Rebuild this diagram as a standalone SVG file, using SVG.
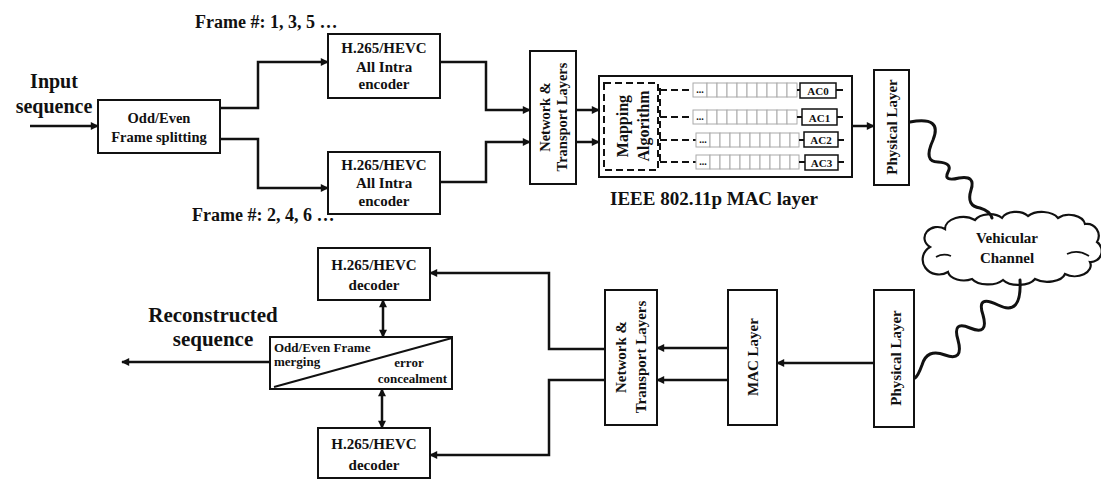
<svg xmlns="http://www.w3.org/2000/svg" width="1101" height="479" viewBox="0 0 1101 479">
<style>
text{font-family:"Liberation Serif","Times New Roman",serif;font-weight:bold;fill:#111}
.box{fill:#fff;stroke:#111;stroke-width:2}
.c{fill:none;stroke:#111;stroke-width:2.5}
.w{fill:none;stroke:#111;stroke-width:3;stroke-linecap:round}
.arr{marker-end:url(#ah)}
.dbl{marker-start:url(#ah);marker-end:url(#ah)}
.dash{fill:none;stroke:#111;stroke-width:2;stroke-dasharray:7,4}
.cell{fill:#fff;stroke:#aaa;stroke-width:1}
.m{text-anchor:middle}
</style>
<defs>
<marker id="ah" viewBox="0 0 10 10" refX="9" refY="5" markerUnits="userSpaceOnUse" markerWidth="10" markerHeight="8" orient="auto-start-reverse">
<path d="M0,0 L10,5 L0,10 z" fill="#111"/>
</marker>
</defs>
<rect width="1101" height="479" fill="#fff"/>

<g id="labels">
<text x="195" y="28" font-size="18">Frame #: 1, 3, 5 …</text>
<text x="192" y="221" font-size="18">Frame #: 2, 4, 6 …</text>
<text x="54" y="88" font-size="20" class="m">Input</text>
<text x="54" y="113" font-size="20" class="m">sequence</text>
<text x="213" y="322" font-size="21" class="m">Reconstructed</text>
<text x="213" y="346" font-size="21" class="m">sequence</text>
<text x="714" y="205" font-size="19" class="m">IEEE 802.11p MAC layer</text>
</g>

<g id="split">
<rect class="box" x="98" y="100" width="122" height="53"/>
<text x="159" y="123" font-size="14.5" class="m">Odd/Even</text>
<text x="159" y="142" font-size="14.5" class="m">Frame splitting</text>
</g>

<g id="enc1">
<rect class="box" x="328" y="34" width="112" height="64"/>
<text x="384" y="53" font-size="15" class="m">H.265/HEVC</text>
<text x="384" y="72" font-size="15" class="m">All Intra</text>
<text x="384" y="89" font-size="15" class="m">encoder</text>
</g>

<g id="enc2">
<rect class="box" x="328" y="152" width="112" height="62"/>
<text x="384" y="170" font-size="15" class="m">H.265/HEVC</text>
<text x="384" y="188" font-size="15" class="m">All Intra</text>
<text x="384" y="206" font-size="15" class="m">encoder</text>
</g>

<g id="net1">
<rect class="box" x="530" y="51" width="46" height="133"/>
<g transform="translate(553,117) rotate(-90)">
<text x="0" y="-3" font-size="14.5" class="m">Network &amp;</text>
<text x="0" y="14" font-size="14.5" class="m">Transport Layers</text>
</g>
</g>

<g id="mac1">
<rect class="box" x="599" y="76" width="253" height="101" stroke-width="2.5"/>
<rect x="604" y="83" width="54" height="87" class="dash"/>
<g transform="translate(631,126) rotate(-90)">
<text x="0" y="-3" font-size="16" class="m">Mapping</text>
<text x="0" y="18" font-size="16" class="m">Algorithm</text>
</g>
<line x1="660" y1="88" x2="660" y2="164" class="dash"/>
<g id="queues">
<line x1="660" y1="90" x2="693" y2="90" class="dash"/>
<line x1="660" y1="117" x2="693" y2="117" class="dash"/>
<line x1="660" y1="140" x2="696" y2="140" class="dash"/>
<line x1="660" y1="162" x2="696" y2="162" class="dash"/>
<g id="q0">
<rect class="cell" x="693" y="83" width="14" height="14"/>
<rect class="cell" x="707" y="83" width="10" height="14"/><rect class="cell" x="717" y="83" width="10" height="14"/><rect class="cell" x="727" y="83" width="10" height="14"/><rect class="cell" x="737" y="83" width="10" height="14"/><rect class="cell" x="747" y="83" width="10" height="14"/><rect class="cell" x="757" y="83" width="10" height="14"/><rect class="cell" x="767" y="83" width="10" height="14"/><rect class="cell" x="777" y="83" width="10" height="14"/><rect class="cell" x="787" y="83" width="10" height="14"/>
<text x="700" y="93" font-size="10" class="m">...</text>
<line x1="797" y1="90" x2="800" y2="90" stroke="#111" stroke-width="2"/>
<rect x="800" y="83" width="36" height="15" fill="#fff" stroke="#111" stroke-width="1.5"/>
<text x="818" y="95" font-size="11" class="m">AC0</text>
<line x1="836" y1="90" x2="843" y2="90" stroke="#111" stroke-width="2"/>
</g>
<g id="q1">
<rect class="cell" x="693" y="110" width="14" height="14"/>
<rect class="cell" x="707" y="110" width="10" height="14"/><rect class="cell" x="717" y="110" width="10" height="14"/><rect class="cell" x="727" y="110" width="10" height="14"/><rect class="cell" x="737" y="110" width="10" height="14"/><rect class="cell" x="747" y="110" width="10" height="14"/><rect class="cell" x="757" y="110" width="10" height="14"/><rect class="cell" x="767" y="110" width="10" height="14"/><rect class="cell" x="777" y="110" width="10" height="14"/><rect class="cell" x="787" y="110" width="10" height="14"/>
<text x="700" y="120" font-size="10" class="m">...</text>
<line x1="797" y1="117" x2="802" y2="117" stroke="#111" stroke-width="2"/>
<rect x="802" y="109" width="35" height="16" fill="#fff" stroke="#111" stroke-width="1.5"/>
<text x="819.500" y="122" font-size="11" class="m">AC1</text>
<line x1="837" y1="117" x2="843" y2="117" stroke="#111" stroke-width="2"/>
</g>
<g id="q2">
<rect class="cell" x="696" y="133" width="14" height="14"/>
<rect class="cell" x="710" y="133" width="10" height="14"/><rect class="cell" x="720" y="133" width="10" height="14"/><rect class="cell" x="730" y="133" width="10" height="14"/><rect class="cell" x="740" y="133" width="10" height="14"/><rect class="cell" x="750" y="133" width="10" height="14"/><rect class="cell" x="760" y="133" width="10" height="14"/><rect class="cell" x="770" y="133" width="10" height="14"/><rect class="cell" x="780" y="133" width="10" height="14"/><rect class="cell" x="790" y="133" width="9" height="14"/>
<text x="703" y="143" font-size="10" class="m">...</text>
<line x1="799" y1="140" x2="804" y2="140" stroke="#111" stroke-width="2"/>
<rect x="804" y="132" width="34" height="15" fill="#fff" stroke="#111" stroke-width="1.5"/>
<text x="821" y="144" font-size="11" class="m">AC2</text>
<line x1="838" y1="140" x2="844" y2="140" stroke="#111" stroke-width="2"/>
</g>
<g id="q3">
<rect class="cell" x="696" y="155" width="14" height="14"/>
<rect class="cell" x="710" y="155" width="10" height="14"/><rect class="cell" x="720" y="155" width="10" height="14"/><rect class="cell" x="730" y="155" width="10" height="14"/><rect class="cell" x="740" y="155" width="10" height="14"/><rect class="cell" x="750" y="155" width="10" height="14"/><rect class="cell" x="760" y="155" width="10" height="14"/><rect class="cell" x="770" y="155" width="10" height="14"/><rect class="cell" x="780" y="155" width="10" height="14"/><rect class="cell" x="790" y="155" width="9" height="14"/>
<text x="703" y="165" font-size="10" class="m">...</text>
<line x1="799" y1="162" x2="805" y2="162" stroke="#111" stroke-width="2"/>
<rect x="805" y="155" width="33" height="15" fill="#fff" stroke="#111" stroke-width="1.5"/>
<text x="821.500" y="167" font-size="11" class="m">AC3</text>
<line x1="838" y1="162" x2="844" y2="162" stroke="#111" stroke-width="2"/>
</g>
</g>
</g>

<g id="phy1">
<rect class="box" x="874" y="70" width="35" height="115"/>
<g transform="translate(891.500,127) rotate(-90)">
<text x="0" y="5" font-size="15" class="m">Physical Layer</text>
</g>
</g>

<g id="cloud">
<path d="M930,247 A13,11 0 0 1 945,229 A18,12 0 0 1 975,220 A16,10 0 0 1 1002,218 A15,10 0 0 1 1028,216 A18,11 0 0 1 1058,218 A16,11 0 0 1 1085,224 A12,12 0 0 1 1097,242 A11,11 0 0 1 1090,262 A16,11 0 0 1 1065,274 A18,10 0 0 1 1035,279 A18,10 0 0 1 1003,280 A18,10 0 0 1 972,279 A16,10 0 0 1 948,272 A12,11 0 0 1 930,247 Z" fill="#fff" stroke="#111" stroke-width="2.2"/>
<path d="M936,257 Q943,253 951,256" fill="none" stroke="#111" stroke-width="1.8"/>
<path d="M1067,254 Q1078,249 1089,256" fill="none" stroke="#111" stroke-width="1.8"/>
<text x="1007" y="243" font-size="15" class="m">Vehicular</text>
<text x="1007" y="263" font-size="15" class="m">Channel</text>
</g>

<g id="phy2">
<rect class="box" x="874" y="290" width="40" height="137"/>
<g transform="translate(894,358) rotate(-90)">
<text x="0" y="7" font-size="15" class="m">Physical Layer</text>
</g>
</g>

<g id="mac2">
<rect class="box" x="728" y="290" width="49" height="135"/>
<g transform="translate(752.500,357) rotate(-90)">
<text x="0" y="5.500" font-size="15" class="m">MAC Layer</text>
</g>
</g>

<g id="net2">
<rect class="box" x="605" y="290" width="52" height="135"/>
<g transform="translate(631,357) rotate(-90)">
<text x="0" y="-5" font-size="15" class="m">Network &amp;</text>
<text x="0" y="15" font-size="15" class="m">Transport Layers</text>
</g>
</g>

<g id="dec1">
<rect class="box" x="318" y="248" width="112" height="52"/>
<text x="374" y="270" font-size="15" class="m">H.265/HEVC</text>
<text x="374" y="290" font-size="15" class="m">decoder</text>
</g>

<g id="dec2">
<rect class="box" x="318" y="428" width="112" height="50"/>
<text x="374" y="449" font-size="15" class="m">H.265/HEVC</text>
<text x="374" y="470" font-size="15" class="m">decoder</text>
</g>

<g id="merge">
<rect class="box" x="270" y="337" width="182" height="52"/>
<line x1="274" y1="387" x2="452" y2="338" stroke="#111" stroke-width="2"/>
<text x="274" y="352" font-size="13">Odd/Even Frame</text>
<text x="274" y="366" font-size="13">merging</text>
<text x="409" y="367" font-size="13" class="m">error</text>
<text x="447" y="383" font-size="13" text-anchor="end">concealment</text>
</g>

<g id="connectors">
<line class="c arr" x1="30" y1="126" x2="98" y2="126"/>
<polyline class="c arr" points="220,108 258,108 258,62 328,62"/>
<polyline class="c arr" points="220,139 258,139 258,188 328,188"/>
<polyline class="c arr" points="440,62 486,62 486,110 530,110"/>
<polyline class="c arr" points="440,182 486,182 486,142 530,142"/>
<line class="c arr" x1="576" y1="110" x2="599" y2="110"/>
<line class="c arr" x1="576" y1="142" x2="599" y2="142"/>
<line class="c arr" x1="852" y1="126" x2="874" y2="126"/>
<path class="w" d="M910,122 Q943,116 933,140 Q923,162 938,162 Q953,163 948,172 Q943,182 959,178 Q976,175 971,190 Q966,206 980,208 Q990,211 992,218"/>
<path class="w" d="M1020,280 Q1022,317 998,305 Q976,294 983,315 Q989,336 970,328 Q952,320 958,340 Q964,362 945,355 Q927,348 922,365 Q918,376 915,378"/>
<line class="c arr" x1="874" y1="363" x2="777" y2="363"/>
<line class="c arr" x1="728" y1="348" x2="657" y2="348"/>
<line class="c arr" x1="728" y1="380" x2="657" y2="380"/>
<polyline class="c arr" points="605,349 549,349 549,273 430,273"/>
<polyline class="c arr" points="605,380 549,380 549,455 430,455"/>
<line class="c dbl" x1="383" y1="300" x2="383" y2="337"/>
<line class="c dbl" x1="382" y1="389" x2="382" y2="428"/>
<line class="c arr" x1="270" y1="362" x2="122" y2="362"/>
</g>
</svg>
